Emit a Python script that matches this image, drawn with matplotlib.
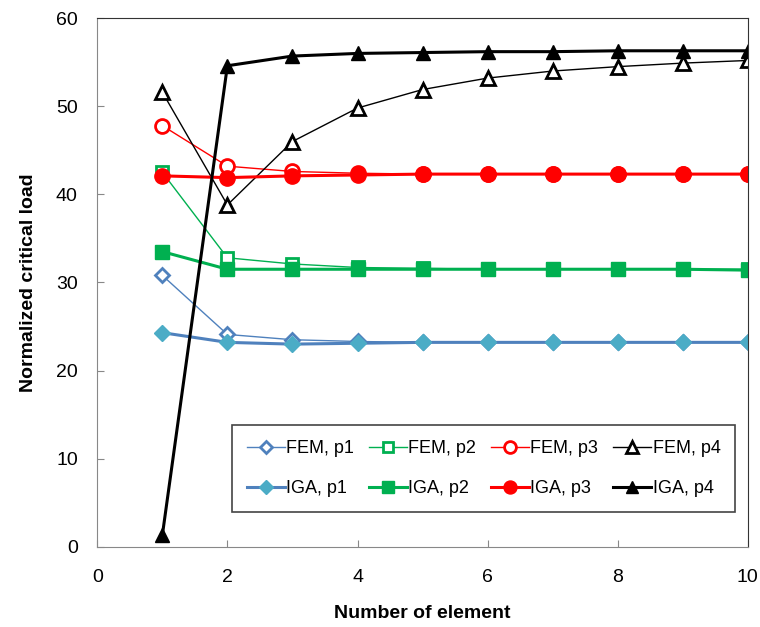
import matplotlib
matplotlib.use("Agg")
import matplotlib.pyplot as plt

plt.rcParams['font.family'] = ['Liberation Sans', 'DejaVu Sans']

# number of elements
elements = [1, 2, 3, 4, 5, 6, 7, 8, 9, 10]

# normalized critical loads
fem_p1 = [30.8, 24.1, 23.5, 23.3, 23.2, 23.2, 23.2, 23.2, 23.2, 23.2]
fem_p2 = [42.5, 32.8, 32.1, 31.7, 31.6, 31.5, 31.5, 31.5, 31.5, 31.5]
fem_p3 = [47.8, 43.2, 42.6, 42.4, 42.3, 42.3, 42.3, 42.3, 42.3, 42.3]
fem_p4 = [51.6, 38.8, 46.0, 49.8, 51.9, 53.2, 54.0, 54.5, 54.9, 55.2]
iga_p1 = [24.3, 23.2, 23.0, 23.1, 23.2, 23.2, 23.2, 23.2, 23.2, 23.2]
iga_p2 = [33.5, 31.5, 31.5, 31.5, 31.5, 31.5, 31.5, 31.5, 31.5, 31.4]
iga_p3 = [42.1, 41.9, 42.1, 42.2, 42.3, 42.3, 42.3, 42.3, 42.3, 42.3]
iga_p4 = [1.3, 54.6, 55.7, 56.0, 56.1, 56.2, 56.2, 56.3, 56.3, 56.3]

blue = '#4F81BD'
teal = '#4BACC6'
green = '#00B050'
red = '#FF0000'
black = '#000000'

fig = plt.figure(figsize=(7.6, 6.27), dpi=100)
ax = fig.add_axes([0.128, 0.128, 0.856, 0.843])

h = {}
h['fem1'], = ax.plot(elements, fem_p1, color=blue, lw=1, marker='D', ms=7,
                     mfc='white', mec=blue, mew=2, label='FEM, p1')
h['fem2'], = ax.plot(elements, fem_p2, color=green, lw=1, marker='s', ms=9,
                     mfc='white', mec=green, mew=2, label='FEM, p2')
h['fem3'], = ax.plot(elements, fem_p3, color=red, lw=1, marker='o', ms=10,
                     mfc='white', mec=red, mew=2, label='FEM, p3')
h['fem4'], = ax.plot(elements, fem_p4, color=black, lw=1, marker='^', ms=10,
                     mfc='white', mec=black, mew=2, label='FEM, p4')
h['iga1'], = ax.plot(elements, iga_p1, color=blue, lw=2.2, marker='D', ms=8,
                     mfc=teal, mec=teal, label='IGA, p1')
h['iga2'], = ax.plot(elements, iga_p2, color=green, lw=2.2, marker='s', ms=10,
                     mfc=green, mec=green, label='IGA, p2')
h['iga3'], = ax.plot(elements, iga_p3, color=red, lw=2.2, marker='o', ms=11,
                     mfc=red, mec=red, label='IGA, p3')
h['iga4'], = ax.plot(elements, iga_p4, color=black, lw=2.2, marker='^', ms=10,
                     mfc=black, mec=black, label='IGA, p4')

ax.set_xlim(0, 10)
ax.set_ylim(0, 60)
ax.set_xticks(range(0, 11, 2))
ax.set_yticks(range(0, 61, 10))
ax.tick_params(direction='in', length=5, labelsize=14, color='#888888')
ax.tick_params(axis='x', pad=16)
ax.tick_params(axis='y', pad=14)
for s in ['left', 'bottom']:
    ax.spines[s].set_color('#888888')
for s in ['top', 'right']:
    ax.spines[s].set_color('#333333')

ax.set_xlabel('Number of element', fontsize=14, fontweight='bold', labelpad=14)
ax.set_ylabel('Normalized critical load', fontsize=14, fontweight='bold', labelpad=14)

order = ['fem1', 'iga1', 'fem2', 'iga2', 'fem3', 'iga3', 'fem4', 'iga4']
leg = ax.legend([h[k] for k in order], [h[k].get_label() for k in order],
                ncol=4, loc='lower right', bbox_to_anchor=(0.980, 0.066),
                borderaxespad=0, fontsize=13, fancybox=False,
                edgecolor='#444444', framealpha=1, handlelength=2.1,
                handletextpad=0.1, columnspacing=0.8, labelspacing=1.3,
                borderpad=0.8, markerscale=0.85)
leg.get_frame().set_linewidth(1.2)

fig.savefig('out.png', dpi=100)
